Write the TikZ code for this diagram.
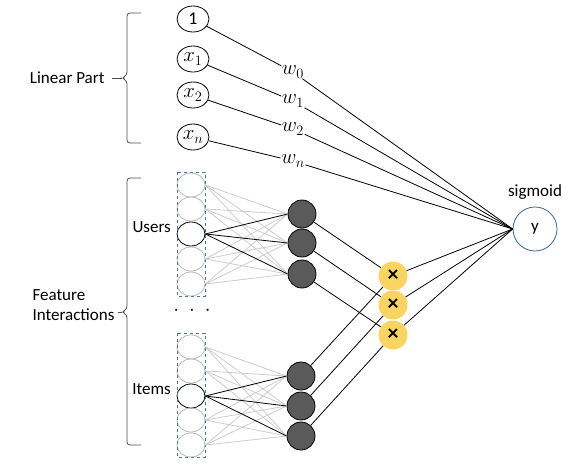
\documentclass[tikz,border=0pt]{standalone}
\usepackage{fontspec}
\setmainfont{Carlito}
\usepackage{tikz}
\usetikzlibrary{shapes.geometric}
\definecolor{prodfill}{RGB}{250,212,96}
\definecolor{boxblue}{RGB}{80,115,160}
\definecolor{outblue}{RGB}{55,100,160}
\definecolor{hidfill}{RGB}{90,90,90}

\begin{document}
\begin{tikzpicture}[x=1pt, y=-1pt,
    every node/.style={font=\fontsize{17}{20}\selectfont},
    lin/.style={draw, ellipse, minimum width=32pt, minimum height=26pt, inner sep=0pt, line width=0.8pt, font=\fontsize{21}{24}\selectfont},
    weight/.style={inner sep=0.5pt, font=\fontsize{21}{24}\selectfont},
    embed/.style={draw=black!28, ellipse, minimum width=28pt, minimum height=24pt, inner sep=0pt, line width=0.8pt},
    embedon/.style={embed, draw=black},
    hid/.style={draw, circle, fill=hidfill, minimum size=28pt, inner sep=0pt, line width=0.8pt},
    prod/.style={circle, fill=prodfill, minimum size=29pt, inner sep=0pt, font=\fontsize{22}{24}\selectfont\bfseries},
    faint/.style={draw=black!20, line width=0.8pt},
    wire/.style={line width=0.8pt},
    brc/.style={draw=black!70, line width=0.8pt, rounded corners=3pt}
]
\useasboundingbox (0,0) rectangle (580,464);

% Linear part
\node[lin, font=\fontsize{18}{21}\selectfont] (one) at (193,19) {1};
\node[lin] (x1) at (193,59) {$x_1$};
\node[lin] (x2) at (193,95) {$x_2$};
\node[lin] (xn) at (193,137) {$x_n$};

\node[weight] (w0) at (293,72) {$w_0$};
\node[weight] (w1) at (293,101) {$w_1$};
\node[weight] (w2) at (293,129) {$w_2$};
\node[weight] (wn) at (293,161) {$w_n$};

% Output
\node[draw=outblue, circle, minimum size=44pt, inner sep=0pt, line width=0.8pt] (y) at (535,229) {y};
\node (sig) at (535,192) {sigmoid};

% Embedding columns
\node[embed] (u1) at (191,185) {};
\node[embed] (u2) at (191,209) {};
\node[embedon] (u3) at (191,234) {};
\node[embed] (u4) at (191,259) {};
\node[embed] (u5) at (191,284) {};
\draw[boxblue, dashed, line width=0.8pt] (177,172) rectangle (205,296);

\node[embed] (i1) at (191,347) {};
\node[embed] (i2) at (191,371) {};
\node[embedon] (i3) at (191,396) {};
\node[embed] (i4) at (191,420) {};
\node[embed] (i5) at (191,445) {};
\draw[boxblue, dashed, line width=0.8pt] (177,333) rectangle (205,457);

\node[font=\fontsize{20}{22}\selectfont] (dots) at (192,311) {$\cdot$\hspace{10pt}$\cdot$\hspace{10pt}$\cdot$};
\node[anchor=east, inner sep=0pt] (users) at (171,227) {Users};
\node[anchor=east, inner sep=0pt] (items) at (171,389) {Items};

% Hidden and product units
\node[hid] (hu1) at (302,214) {};
\node[hid] (hu2) at (302,243) {};
\node[hid] (hu3) at (302,274) {};
\node[hid] (hi1) at (301,376) {};
\node[hid] (hi2) at (301,406) {};
\node[hid] (hi3) at (301,436) {};

\node[prod] (p1) at (393,276) {×};
\node[prod] (p2) at (393,305) {×};
\node[prod] (p3) at (393,335) {×};

% Embedding connections
\foreach \i in {1,2,4,5} {
  \foreach \j in {1,2,3} {
    \draw[faint] (u\i.east) -- (hu\j.west);
    \draw[faint] (i\i.east) -- (hi\j.west);
  }
}
\foreach \j in {1,2,3} {
  \draw[wire] (u3.east) -- (hu\j.west);
  \draw[wire] (i3.east) -- (hi\j.west);
  \draw[wire] (hu\j) -- (p\j);
  \draw[wire] (hi\j) -- (p\j);
  \draw[wire] (p\j) -- (y.west);
}

% Linear connections
\draw[wire] (one) -- (w0) -- (y.west);
\draw[wire] (x1) -- (w1) -- (y.west);
\draw[wire] (x2) -- (w2) -- (y.west);
\draw[wire] (xn) -- (wn) -- (y.west);

% Brackets
\coordinate (lintip) at (122,78);
\coordinate (feattip) at (122,312);
\draw[brc] (141,13) -- (127,13) -- (127,75) -- (lintip) -- (127,81) -- (127,143) -- (141,143);
\draw[brc] (141,178) -- (127,178) -- (127,309) -- (feattip) -- (127,315) -- (127,445) -- (141,445);
\node[anchor=east] (linpart) at (108,78) {Linear Part};
\node[anchor=east, align=left] (feat) at (118,305) {Feature\\Interactions};
\draw[black!70, line width=0.8pt] ([xshift=4pt]linpart.east) -- (lintip);
\draw[black!70, line width=0.8pt] (feat.east |- feattip) -- (feattip);

\end{tikzpicture}
\end{document}
